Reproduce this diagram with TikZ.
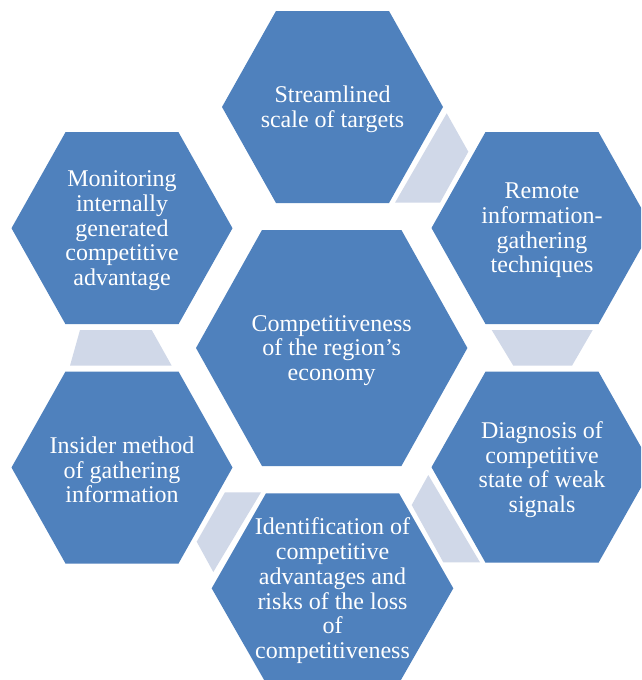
\documentclass[tikz,border=0pt]{standalone}
\usepackage{fontspec}
\setmainfont{Liberation Serif}
\definecolor{hexblue}{HTML}{4F81BD}
\definecolor{linkgrey}{HTML}{D0D8E8}
\tikzset{
  hexfill/.style={fill=hexblue},
  linkfill/.style={fill=linkgrey},
  hextext/.style={text=white, align=center, inner sep=0pt, yshift=-2.5pt,
    font=\fontsize{24}{24.7}\selectfont}
}
% #1 name, #2/#3 centre, #4 half width, #5 half top edge, #6 half height, #7 text
\newcommand\hexcell[7]{%
  \fill[hexfill] ({#2-#4},#3) -- ({#2-#5},{#3-#6}) -- ({#2+#5},{#3-#6})
    -- ({#2+#4},#3) -- ({#2+#5},{#3+#6}) -- ({#2-#5},{#3+#6}) -- cycle;
  \node[hextext] (#1) at (#2,#3) {#7};}
\begin{document}
\begin{tikzpicture}[x=1pt,y=-1pt]
  \useasboundingbox (0,0) rectangle (641,680);
  \clip (0,0) rectangle (641,680);
  \fill[white] (0,0) rectangle (641,680);

  % links between neighbouring cells of the ring
  \fill[linkfill] (446.7,113.3) -- (468.3,151.7) -- (440,202.7) -- (395,202.7) -- cycle;
  \fill[linkfill] (491.7,330) -- (592.7,330) -- (572,365.7) -- (513.3,365.7) -- cycle;
  \fill[linkfill] (428.3,475) -- (411.7,505) -- (443.3,562.3) -- (480,562.3) -- cycle;
  \fill[linkfill] (225,492.3) -- (261,492.3) -- (213.3,572) -- (196.7,541.7) -- cycle;
  \fill[linkfill] (80,330) -- (151.7,330) -- (171.7,365.7) -- (70,365.7) -- cycle;

  % cells
  \hexcell{centre}{331.7}{348}{135.7}{69.7}{118}{Competitiveness\\of the region’s\\economy}
  \hexcell{targets}{332.5}{107}{110.5}{56.5}{96}{Streamlined\\scale of targets}
  \hexcell{remote}{542}{228}{110.5}{56.5}{96}{Remote\\information-\\gathering\\techniques}
  \hexcell{diagnosis}{542}{467.2}{110.5}{56.5}{95.5}{Diagnosis of\\competitive\\state of weak\\signals}
  \hexcell{identification}{332.5}{588.3}{120.8}{66.5}{95}{Identification of\\competitive\\advantages and\\risks of the loss\\of\\competitiveness}
  \hexcell{insider}{122}{467.5}{110.5}{56.5}{96}{Insider method\\of gathering\\information}
  \hexcell{monitoring}{122}{228.2}{110.5}{56.5}{96}{Monitoring\\internally\\generated\\competitive\\advantage}
\end{tikzpicture}
\end{document}
